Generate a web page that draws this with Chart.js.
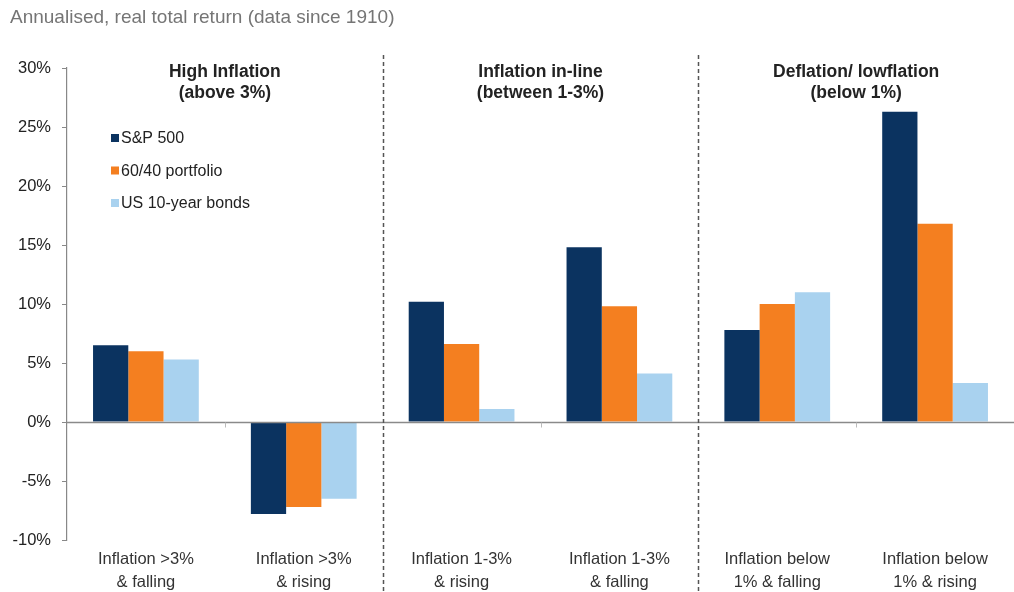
<!DOCTYPE html>
<html>
<head>
<meta charset="utf-8">
<script src="https://cdn.jsdelivr.net/npm/chart.js@4.4.1/dist/chart.umd.min.js"></script>
<style>
  html, body { margin: 0; padding: 0; background: #fff; }
  #wrap { width: 1014px; height: 592px; position: relative; }
</style>
</head>
<body>
<div id="wrap"><canvas id="c" width="1014" height="592"></canvas></div>
<script>
// data (annualised real total return, %)
const categories = [
  ['Inflation >3%', '& falling'],
  ['Inflation >3%', '& rising'],
  ['Inflation 1-3%', '& rising'],
  ['Inflation 1-3%', '& falling'],
  ['Inflation below', '1% & falling'],
  ['Inflation below', '1% & rising']
];
const seriesNames = ['S&P 500', '60/40 portfolio', 'US 10-year bonds'];
const sp500   = [6.5, -7.8, 10.2, 14.8, 7.8, 26.3];
const p6040   = [6.0, -7.2,  6.6,  9.8, 10.0, 16.8];
const bonds10 = [5.3, -6.5,  1.1,  4.1, 11.0,  3.3];
const groupTitles = [
  ['High Inflation', '(above 3%)'],
  ['Inflation in-line', '(between 1-3%)'],
  ['Deflation/ lowflation', '(below 1%)']
];
const yTicks = [-10, -5, 0, 5, 10, 15, 20, 25, 30];
const chartTitle = 'Annualised, real total return (data since 1910)';

const colors = ['#0b3360', '#f47f20', '#a9d2ef'];

// title, group headers, dashed dividers, zero line, legend
const decor = {
  id: 'decor',
  afterDraw(chart) {
    const { ctx, chartArea: a, scales: { x, y } } = chart;
    ctx.save();

    ctx.fillStyle = '#757575';
    ctx.font = '19px Arial, "Liberation Sans", sans-serif';
    ctx.textBaseline = 'middle';
    ctx.textAlign = 'left';
    ctx.fillText(chartTitle, 10, 18);

    // zero line
    const y0 = Math.round(y.getPixelForValue(0)) + 0.5;
    ctx.strokeStyle = '#8a8a8a';
    ctx.lineWidth = 1.3;
    ctx.beginPath();
    ctx.moveTo(a.left, y0); ctx.lineTo(a.right, y0);
    ctx.stroke();
    // small marks between categories inside a group
    ctx.strokeStyle = '#bbb';
    ctx.lineWidth = 1;
    [0.5, 2.5, 4.5].forEach(v => {
      const px = Math.round(x.getPixelForValue(v)) + 0.5;
      ctx.beginPath(); ctx.moveTo(px, y0); ctx.lineTo(px, y0 + 5); ctx.stroke();
    });

    // dashed dividers
    ctx.strokeStyle = '#555';
    ctx.lineWidth = 1.5;
    ctx.setLineDash([4, 3]);
    [1.5, 3.5].forEach(v => {
      const px = Math.round(x.getPixelForValue(v)) + 0.5;
      ctx.beginPath(); ctx.moveTo(px, 55); ctx.lineTo(px, 592); ctx.stroke();
    });
    ctx.setLineDash([]);

    // group titles
    ctx.fillStyle = '#222';
    ctx.font = 'bold 17.5px Arial, "Liberation Sans", sans-serif';
    ctx.textAlign = 'center';
    groupTitles.forEach((t, i) => {
      const cx = x.getPixelForValue(i * 2 + 0.5);
      ctx.fillText(t[0], cx, 72);
      ctx.fillText(t[1], cx, 93);
    });

    // legend
    ctx.font = '16px Arial, "Liberation Sans", sans-serif';
    ctx.textAlign = 'left';
    seriesNames.forEach((name, i) => {
      const ly = 138 + i * 32.5;
      ctx.fillStyle = colors[i];
      ctx.fillRect(111, ly - 4, 8, 8);
      ctx.fillStyle = '#222';
      ctx.fillText(name, 121, ly + 1);
    });
    ctx.restore();
  }
};

new Chart(document.getElementById('c'), {
  type: 'bar',
  data: {
    labels: categories,
    datasets: [sp500, p6040, bonds10].map((d, i) => ({
      label: seriesNames[i],
      data: d,
      backgroundColor: colors[i],
      borderWidth: 0,
      categoryPercentage: 0.67,
      barPercentage: 1.0
    }))
  },
  options: {
    responsive: false,
    animation: false,
    layout: { padding: { top: 68, right: 0, left: 0, bottom: 0 } },
    plugins: { legend: { display: false }, tooltip: { enabled: false } },
    scales: {
      x: {
        grid: { display: false },
        border: { display: false },
        ticks: {
          color: '#333',
          font: { family: 'Arial, "Liberation Sans", sans-serif', size: 16.5, lineHeight: 1.4 },
          padding: 0,
          maxRotation: 0,
          autoSkip: false
        },
        afterFit(s) { s.height = 52; }
      },
      y: {
        min: -10, max: 30,
        afterBuildTicks(s) { s.ticks = yTicks.map(v => ({ value: v })); },
        grid: { drawOnChartArea: false, drawTicks: true, tickLength: 5, tickColor: '#888' },
        border: { display: true, color: '#888', width: 1.2 },
        ticks: {
          color: '#222',
          font: { family: 'Arial, "Liberation Sans", sans-serif', size: 16.5 },
          padding: 11,
          callback: v => v + '%'
        },
        afterFit(s) { s.width = 67; }
      }
    }
  },
  plugins: [decor]
});
</script>
</body>
</html>
